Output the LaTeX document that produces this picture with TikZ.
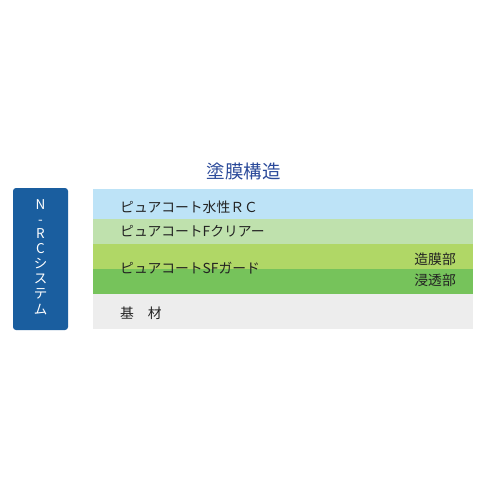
\documentclass[tikz,border=0pt]{standalone}
\usepackage{fontspec}
\setmainfont{Noto Sans CJK JP}
\definecolor{lblue}{HTML}{BDE3F7}
\definecolor{lgreen}{HTML}{BFE1AD}
\definecolor{ygreen}{HTML}{B0D766}
\definecolor{mgreen}{HTML}{76C35B}
\definecolor{lgray}{HTML}{EDEDED}
\definecolor{dblue}{HTML}{1A5E9F}
\definecolor{ttl}{HTML}{2B4A9A}
\definecolor{txt}{HTML}{222222}
\begin{document}
\begin{tikzpicture}[x=1pt,y=-1pt,
  layer/.style={draw=none},
  lbl/.style={anchor=west,inner sep=0pt,text=txt,font=\fontsize{13.8}{14}\selectfont},
  rlbl/.style={anchor=east,inner sep=0pt,text=txt,font=\fontsize{13.8}{14}\selectfont},
  vch/.style={inner sep=0pt,text=white,font=\fontsize{13.5}{14}\selectfont}]
\useasboundingbox[fill=white] (0,0) rectangle (486,486);
\node[text=ttl,font=\fontsize{18.5}{19}\selectfont,inner sep=0pt] (title) at (243.5,171) {塗膜構造};
\fill[dblue,rounded corners=3pt] (13,188) rectangle (68,330);
\node[vch] (v1) at (40.5,205) {N};
\node[vch] (v2) at (40.5,222) {-};
\node[vch] (v3) at (40.5,234) {R};
\node[vch] (v4) at (40.5,249) {C};
\node[vch] (v5) at (40.5,264) {シ};
\node[vch] (v6) at (40.5,279) {ス};
\node[vch] (v7) at (40.5,294) {テ};
\node[vch] (v8) at (40.5,310) {ム};
\fill[lblue] (93,189) rectangle (473,219);
\fill[lgreen] (93,219) rectangle (473,244);
\fill[ygreen] (93,244) rectangle (473,269);
\fill[mgreen] (93,269) rectangle (473,294);
\fill[lgray] (93,294) rectangle (473,329);
\node[lbl] (t1) at (120,207) {ピュアコート水性ＲＣ};
\node[lbl] (t2) at (120,231) {ピュアコートFクリアー};
\node[lbl] (t3) at (120,268) {ピュアコートSFガード};
\node[lbl] (t4) at (120,313) {基\hspace{1em}材};
\node[rlbl] (r1) at (456,259) {造膜部};
\node[rlbl] (r2) at (456,280) {浸透部};
\end{tikzpicture}
\end{document}
